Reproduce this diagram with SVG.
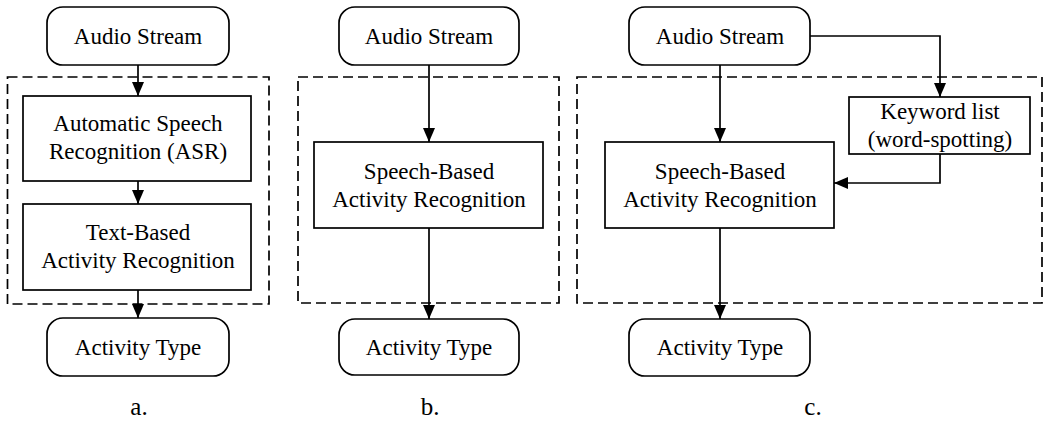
<svg xmlns="http://www.w3.org/2000/svg" width="1050" height="423" viewBox="0 0 1050 423">
<defs>
<style>
.box{fill:#fff;stroke:#000;stroke-width:1.7}
.dash{fill:none;stroke:#000;stroke-width:1.7;stroke-dasharray:10 5}
.ln{fill:none;stroke:#000;stroke-width:1.7}
text{font-family:"Liberation Serif","Times New Roman",serif;font-size:23px;fill:#000;text-anchor:middle}
.lbl{font-size:25px}
</style>
<marker id="ah" markerUnits="userSpaceOnUse" markerWidth="14" markerHeight="14" viewBox="0 0 14 12" refX="14" refY="6" orient="auto">
<path d="M0,0 L14,6 L0,12 Z" fill="#000"/>
</marker>
</defs>
<rect width="1050" height="423" fill="#fff"/>

<g id="groups">
<rect class="dash" x="7.5" y="77" width="261.5" height="227"/>
<rect class="dash" x="298" y="77" width="261" height="226"/>
<rect class="dash" x="577" y="77" width="465" height="226"/>
</g>

<g id="connectors">
<path class="ln" d="M138,65 V96" marker-end="url(#ah)"/>
<path class="ln" d="M138,181 V204" marker-end="url(#ah)"/>
<path class="ln" d="M138,290 V318" marker-end="url(#ah)"/>
<path class="ln" d="M429,65 V142" marker-end="url(#ah)"/>
<path class="ln" d="M429,228 V319" marker-end="url(#ah)"/>
<path class="ln" d="M720,65 V142" marker-end="url(#ah)"/>
<path class="ln" d="M810,36 H940 V97" marker-end="url(#ah)"/>
<path class="ln" d="M940,154 V183 H834" marker-end="url(#ah)"/>
<path class="ln" d="M720,228 V319" marker-end="url(#ah)"/>
</g>

<g id="a-audio"><rect class="box" x="47" y="7" width="182" height="58" rx="16"/><text x="138" y="44">Audio Stream</text></g>
<g id="a-asr"><rect class="box" x="23" y="96" width="228" height="85"/><text x="138" y="131">Automatic Speech</text><text x="138" y="159">Recognition (ASR)</text></g>
<g id="a-text"><rect class="box" x="23" y="204" width="228" height="86"/><text x="138" y="240">Text-Based</text><text x="138" y="268">Activity Recognition</text></g>
<g id="a-type"><rect class="box" x="47" y="318" width="182" height="58" rx="16"/><text x="138" y="355">Activity Type</text></g>

<g id="b-audio"><rect class="box" x="339" y="7" width="180" height="58" rx="16"/><text x="429" y="44">Audio Stream</text></g>
<g id="b-speech"><rect class="box" x="314" y="142" width="229" height="86"/><text x="429" y="179">Speech-Based</text><text x="429" y="207">Activity Recognition</text></g>
<g id="b-type"><rect class="box" x="339" y="319" width="180" height="56" rx="16"/><text x="429" y="355">Activity Type</text></g>

<g id="c-audio"><rect class="box" x="629" y="7" width="181" height="58" rx="16"/><text x="720" y="44">Audio Stream</text></g>
<g id="c-keyword"><rect class="box" x="849" y="97" width="181" height="57"/><text x="940" y="119">Keyword list</text><text x="940" y="147">(word-spotting)</text></g>
<g id="c-speech"><rect class="box" x="605" y="142" width="229" height="86"/><text x="720" y="179">Speech-Based</text><text x="720" y="207">Activity Recognition</text></g>
<g id="c-type"><rect class="box" x="629" y="319" width="181" height="57" rx="16"/><text x="720" y="355">Activity Type</text></g>

<g id="labels">
<text class="lbl" x="139" y="415">a.</text>
<text class="lbl" x="430" y="415">b.</text>
<text class="lbl" x="813" y="415">c.</text>
</g>
</svg>
